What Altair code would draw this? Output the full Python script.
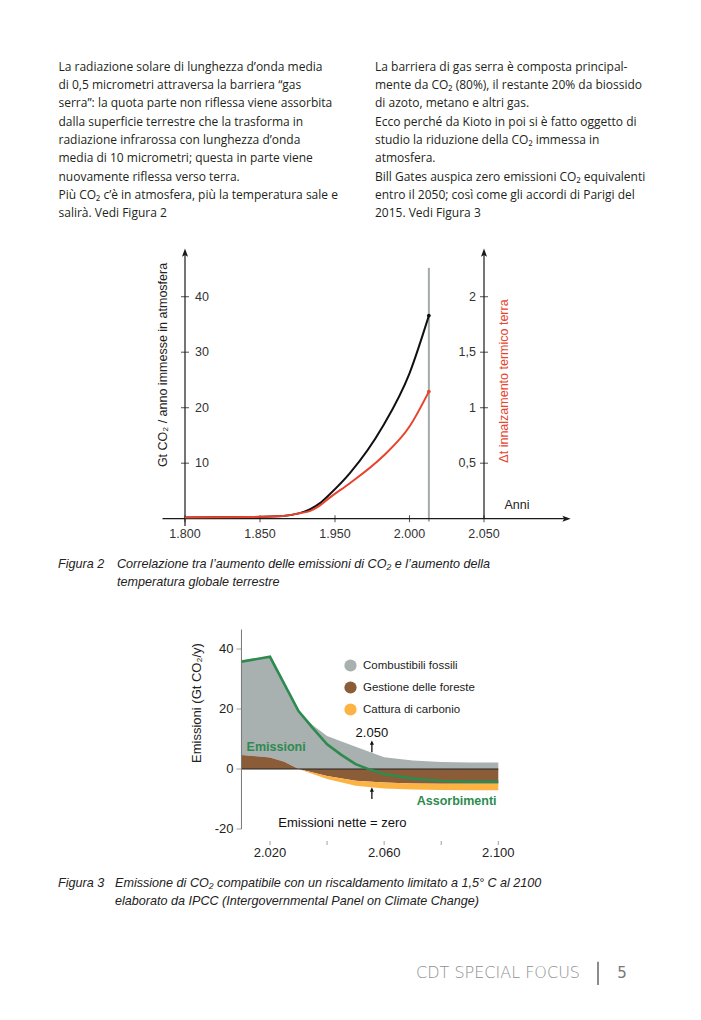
import altair as alt
import pandas as pd

W, H = 685, 1004          # drawing area (page minus 8px margin)
FB = "Open Sans"          # body font
FF = "Liberation Sans"    # figure font

# ---------------- page text ----------------
left_lines = [
    "La radiazione solare di lunghezza d’onda media",
    "di 0,5 micrometri attraversa la barriera “gas",
    "serra”: la quota parte non riflessa viene assorbita",
    "dalla superficie terrestre che la trasforma in",
    "radiazione infrarossa con lunghezza d’onda",
    "media di 10 micrometri; questa  in parte viene",
    "nuovamente riflessa verso terra.",
    "Più CO₂ c’è in atmosfera, più la temperatura sale e",
    "salirà.  Vedi Figura 2",
]
right_lines = [
    "La barriera di gas serra è composta principal-",
    "mente da CO₂ (80%), il restante 20% da biossido",
    "di azoto, metano e altri gas.",
    "Ecco perché da Kioto in poi si è fatto oggetto di",
    "studio la riduzione della CO₂ immessa in",
    "atmosfera.",
    "Bill Gates auspica zero emissioni CO₂ equivalenti",
    "entro il 2050; così come gli accordi di Parigi del",
    "2015.  Vedi Figura 3",
]
cap2_lines = ["Correlazione tra l’aumento delle emissioni di CO₂ e l’aumento della",
              "temperatura globale terrestre"]
cap3_lines = ["Emissione di CO₂ compatibile con un riscaldamento limitato a 1,5° C al 2100",
              "elaborato da IPCC (Intergovernmental Panel on Climate Change)"]

# ---------------- Figura 2 data ----------------
fig2_years = [1800, 1843, 1881, 1903, 1917, 1930, 1943, 1960, 1982, 2000, 2013]
co2_gt     = [0.2, 0.3, 0.5, 1.0, 1.7, 2.8, 4.4, 8.2, 16.6, 26.2, 36.6]
dt_c       = [0.01, 0.015, 0.025, 0.05, 0.07, 0.12, 0.19, 0.32, 0.56, 0.83, 1.145]
fig2_xticks  = [1800, 1850, 1950, 2000, 2050]
fig2_xlabels = ["1.800", "1.850", "1.950", "2.000", "2.050"]
fig2_yticks  = [10, 20, 30, 40]
fig2_ylabels = ["10", "20", "30", "40"]
fig2_tticks  = [0.5, 1, 1.5, 2]
fig2_tlabels = ["0,5", "1", "1,5", "2"]
today_year = 2013

# ---------------- Figura 3 data ----------------
fig3_years = [2010, 2020, 2025, 2030, 2035, 2040, 2050, 2060, 2070, 2080, 2090, 2100]
fossil     = [36.0, 37.4, 28.6, 19.5, 14.6, 11.0, 7.4, 3.9, 2.8, 2.3, 2.2, 2.2]
forest     = [4.7, 3.8, 2.4, 0.0, -1.2, -2.3, -3.9, -4.5, -4.8, -4.9, -4.9, -4.9]
capture    = [0, 0, 0, 0, 0.5, 1.0, 1.7, 2.0, 2.0, 2.1, 2.2, 2.2]
net_years  = [2010, 2020, 2030, 2035, 2040, 2045, 2050, 2055, 2060, 2070, 2080, 2090, 2100]
net        = [35.8, 37.4, 19.3, 13.6, 8.2, 4.7, 1.6, -0.2, -1.7, -3.2, -4.0, -4.2, -4.2]
cats   = ["Combustibili fossili", "Gestione delle foreste", "Cattura di carbonio"]
colors = ["#a9b0b0", "#8b5c38", "#fcb343"]
fig3_xticks  = [2020, 2040, 2060, 2080, 2100]
fig3_xlabels = ["2.020", "", "2.060", "", "2.100"]
fig3_yticks  = [40, 20, 0, -20]
fig3_ylabels = ["40", "20", "0", "-20"]
netzero_year = 2055.7

# ---------------- scales (pixel ranges place each figure on the page) ----------------
x2s = alt.Scale(domain=fig2_xticks, range=[177, 252, 327, 401.5, 476], nice=False, zero=False)
y2s = alt.Scale(domain=[0, 40], range=[510.7, 288.7], nice=False, zero=False)
t2s = alt.Scale(domain=[0, 2], range=[510.7, 288.7], nice=False, zero=False)
x3s = alt.Scale(domain=[2020, 2100], range=[262, 490.3], nice=False, zero=False)
y3s = alt.Scale(domain=[0, 40], range=[761, 641], nice=False, zero=False)


def X(f, s):
    return alt.X(f"{f}:Q", scale=s, axis=None)


def Y(f, s):
    return alt.Y(f"{f}:Q", scale=s, axis=None)


one = pd.DataFrame({"k": [0]})
layers = []

# ---------------- body text ----------------
row_scale = alt.Scale(domain=[0, 8], range=[58.7, 205.3], nice=False, zero=False)
for xpos, lines in [(50.5, left_lines), (367, right_lines)]:
    d = pd.DataFrame({"text": lines, "row": list(range(len(lines)))})
    layers.append(alt.Chart(d).mark_text(align="left", baseline="middle", font=FB, fontSize=12,
                                         color="#231f20").encode(
        x=alt.value(xpos), y=Y("row", row_scale), text="text:N"))

# ---------------- Figura 2 ----------------
axis_col = "#1a1a1a"
layers.append(alt.Chart(pd.DataFrame({"x": [today_year], "a": [-0.5], "b": [45.2]})).mark_rule(
    color="#a3aaaa", strokeWidth=2).encode(x=X("x", x2s), y=Y("a", y2s), y2="b:Q"))
# axis lines
layers.append(alt.Chart(pd.DataFrame({"x": [1800, 2050], "a": [-1.3, 0], "b": [47.8, 47.8]})).mark_rule(
    color=axis_col, strokeWidth=1.2).encode(x=X("x", x2s), y=Y("a", y2s), y2="b:Q"))
layers.append(alt.Chart(pd.DataFrame({"a": [1785], "b": [2104.8], "y": [0]})).mark_rule(
    color=axis_col, strokeWidth=1.2).encode(x=X("a", x2s), x2="b:Q", y=Y("y", y2s)))
# arrowheads
layers.append(alt.Chart(pd.DataFrame({"x": [1800, 2050], "y": [47.8, 47.8]})).mark_point(
    shape="M0,-1L0.6,0.65L0,0.3L-0.6,0.65Z", filled=True, size=100, color=axis_col, opacity=1).encode(
    x=X("x", x2s), y=Y("y", y2s)))
layers.append(alt.Chart(pd.DataFrame({"x": [2104.8], "y": [0]})).mark_point(
    shape="M1,0L-0.65,0.6L-0.3,0L-0.65,-0.6Z", filled=True, size=100, color=axis_col, opacity=1).encode(
    x=X("x", x2s), y=Y("y", y2s)))
# ticks
layers.append(alt.Chart(pd.DataFrame({"x": fig2_xticks, "y": [0] * 5})).mark_tick(
    orient="vertical", size=7, thickness=1.1, color=axis_col).encode(x=X("x", x2s), y=Y("y", y2s)))
layers.append(alt.Chart(pd.DataFrame({"x": [1800] * 4, "y": fig2_yticks})).mark_tick(
    orient="horizontal", size=8, thickness=1.1, color=axis_col).encode(x=X("x", x2s), y=Y("y", y2s)))
layers.append(alt.Chart(pd.DataFrame({"x": [2050] * 4, "y": fig2_tticks})).mark_tick(
    orient="horizontal", size=8, thickness=1.1, color=axis_col).encode(x=X("x", x2s), y=Y("y", t2s)))
# tick labels
layers.append(alt.Chart(pd.DataFrame({"x": fig2_xticks, "y": [0] * 5, "t": fig2_xlabels})).mark_text(
    font=FF, fontSize=12.5, color="#333", baseline="middle", dy=15).encode(
    x=X("x", x2s), y=Y("y", y2s), text="t:N"))
layers.append(alt.Chart(pd.DataFrame({"x": [1800] * 4, "y": fig2_yticks, "t": fig2_ylabels})).mark_text(
    font=FF, fontSize=12.5, color="#333", baseline="middle", align="left", dx=10).encode(
    x=X("x", x2s), y=Y("y", y2s), text="t:N"))
layers.append(alt.Chart(pd.DataFrame({"x": [2050] * 4, "y": fig2_tticks, "t": fig2_tlabels})).mark_text(
    font=FF, fontSize=12.5, color="#333", baseline="middle", align="right", dx=-8).encode(
    x=X("x", x2s), y=Y("y", t2s), text="t:N"))
# curves
d2 = pd.DataFrame({"year": fig2_years, "co2": co2_gt, "dt": dt_c})
layers.append(alt.Chart(d2).mark_line(color="#111111", strokeWidth=2, interpolate="monotone").encode(
    x=X("year", x2s), y=Y("co2", y2s)))
layers.append(alt.Chart(d2).mark_line(color="#e8432d", strokeWidth=2, interpolate="monotone").encode(
    x=X("year", x2s), y=Y("dt", t2s)))
layers.append(alt.Chart(d2.tail(1)).mark_circle(color="#111111", size=14, opacity=1).encode(
    x=X("year", x2s), y=Y("co2", y2s)))
layers.append(alt.Chart(d2.tail(1)).mark_circle(color="#e8432d", size=14, opacity=1).encode(
    x=X("year", x2s), y=Y("dt", t2s)))
# titles
layers.append(alt.Chart(one).mark_text(font=FF, fontSize=12.5, color="#222", angle=270,
                                       baseline="middle").encode(
    x=alt.value(155), y=alt.value(357), text=alt.value("Gt CO₂ / anno immesse in atmosfera")))
layers.append(alt.Chart(one).mark_text(font=FF, fontSize=12.5, color="#e8432d", angle=270,
                                       baseline="middle").encode(
    x=alt.value(496), y=alt.value(373), text=alt.value("Δt innalzamento termico terra")))
layers.append(alt.Chart(one).mark_text(font=FF, fontSize=12.5, color="#222", baseline="middle").encode(
    x=alt.value(509), y=alt.value(497), text=alt.value("Anni")))

# captions
for (yy, lines, label, xoff) in [(556, cap2_lines, "Figura 2", 109), (875.3, cap3_lines, "Figura 3", 107)]:
    layers.append(alt.Chart(one).mark_text(font=FF, fontSize=12.6, fontStyle="italic", color="#222",
                                           align="left", baseline="middle").encode(
        x=alt.value(50), y=alt.value(yy), text=alt.value(label)))
    for i, ln in enumerate(lines):
        layers.append(alt.Chart(one).mark_text(font=FF, fontSize=12.6, fontStyle="italic", color="#222",
                                               align="left", baseline="middle").encode(
            x=alt.value(xoff), y=alt.value(yy + 17.5 * i), text=alt.value(ln)))

# ---------------- Figura 3 ----------------
rows = []
for yr, f, fo, c in zip(fig3_years, fossil, forest, capture):
    rows.append({"year": yr, "cat": cats[0], "lo": max(fo, 0), "hi": f})
    rows.append({"year": yr, "cat": cats[1], "lo": 0, "hi": fo})
    rows.append({"year": yr, "cat": cats[2], "lo": min(fo, 0) - c, "hi": min(fo, 0)})
areas = pd.DataFrame(rows)
layers.append(alt.Chart(areas).mark_area(opacity=1).encode(
    x=X("year", x3s),
    y=alt.Y("hi:Q", scale=y3s, axis=None, stack=None),
    y2="lo:Q",
    color=alt.Color("cat:N", scale=alt.Scale(domain=cats, range=colors),
                    legend=alt.Legend(orient="none", legendX=336, legendY=651, title=None,
                                      symbolType="circle", symbolSize=150, symbolStrokeWidth=0,
                                      symbolOpacity=1, labelFont=FF, labelFontSize=11.5,
                                      labelColor="#222", labelOffset=6, rowPadding=9, padding=0))))
layers.append(alt.Chart(pd.DataFrame({"a": [2010], "b": [2100], "y": [0]})).mark_rule(
    color="#222", strokeWidth=1.2).encode(x=X("a", x3s), x2="b:Q", y=Y("y", y3s)))
layers.append(alt.Chart(pd.DataFrame({"year": net_years, "net": net})).mark_line(
    color="#2e8b4f", strokeWidth=2.6).encode(x=X("year", x3s), y=Y("net", y3s)))
# axis
layers.append(alt.Chart(pd.DataFrame({"x": [2010], "a": [-20], "b": [46.5]})).mark_rule(
    color="#777", strokeWidth=1).encode(x=X("x", x3s), y=Y("a", y3s), y2="b:Q"))
layers.append(alt.Chart(pd.DataFrame({"x": [2010] * 4, "y": fig3_yticks})).mark_tick(
    orient="horizontal", size=5, thickness=1, color="#777", xOffset=-2.5).encode(
    x=X("x", x3s), y=Y("y", y3s)))
layers.append(alt.Chart(pd.DataFrame({"x": [2010] * 4, "y": fig3_yticks, "t": fig3_ylabels})).mark_text(
    font=FF, fontSize=13, color="#222", align="right", baseline="middle", dx=-8).encode(
    x=X("x", x3s), y=Y("y", y3s), text="t:N"))
layers.append(alt.Chart(pd.DataFrame({"x": fig3_xticks, "y": [-20] * 5})).mark_tick(
    orient="vertical", size=4, thickness=1, color="#777", yOffset=14).encode(
    x=X("x", x3s), y=Y("y", y3s)))
layers.append(alt.Chart(pd.DataFrame({"x": fig3_xticks, "y": [-20] * 5, "t": fig3_xlabels})).mark_text(
    font=FF, fontSize=13, color="#222", baseline="middle", dy=24).encode(
    x=X("x", x3s), y=Y("y", y3s), text="t:N"))
layers.append(alt.Chart(one).mark_text(font=FF, fontSize=13, color="#222", angle=270,
                                       baseline="middle").encode(
    x=alt.value(188.7), y=alt.value(695), text=alt.value("Emissioni (Gt CO₂/y)")))
# annotations: arrows at the net-zero year
arr = pd.DataFrame({"x": [netzero_year] * 2, "a": [5.6, -10.0], "b": [8.6, -7.0]})
layers.append(alt.Chart(arr).mark_rule(color="#111", strokeWidth=1.3).encode(
    x=X("x", x3s), y=Y("a", y3s), y2="b:Q"))
layers.append(alt.Chart(arr).mark_point(shape="M0,-1L0.75,0.6L-0.75,0.6Z", filled=True, size=30,
                                        color="#111", opacity=1).encode(
    x=X("x", x3s), y=Y("b", y3s)))
ann = pd.DataFrame({
    "x": [netzero_year, 2022.9],
    "y": [11.9, -17.9],
    "t": ["2.050", "Emissioni nette = zero"],
    "al": ["center", "left"],
})
layers.append(alt.Chart(ann[ann.al == "center"]).mark_text(
    font=FF, fontSize=13, color="#111", baseline="middle", align="center").encode(
    x=X("x", x3s), y=Y("y", y3s), text="t:N"))
layers.append(alt.Chart(ann[ann.al == "left"]).mark_text(
    font=FF, fontSize=13, color="#111", baseline="middle", align="left").encode(
    x=X("x", x3s), y=Y("y", y3s), text="t:N"))
layers.append(alt.Chart(pd.DataFrame({"x": [2011.8], "y": [7.2], "t": ["Emissioni"]})).mark_text(
    font=FF, fontSize=12.5, fontWeight="bold", color="#2e8b4f", baseline="middle", align="left").encode(
    x=X("x", x3s), y=Y("y", y3s), text="t:N"))
layers.append(alt.Chart(pd.DataFrame({"x": [2099.4], "y": [-10.6], "t": ["Assorbimenti"]})).mark_text(
    font=FF, fontSize=12.5, fontWeight="bold", color="#2e8b4f", baseline="middle", align="right").encode(
    x=X("x", x3s), y=Y("y", y3s), text="t:N"))

# ---------------- footer ----------------
layers.append(alt.Chart(one).mark_text(font="DejaVu Sans", fontSize=16, fontWeight=300, color="#8f8f8f",
                                       align="right", baseline="middle").encode(
    x=alt.value(572), y=alt.value(964.5), text=alt.value("CDT SPECIAL FOCUS")))
layers.append(alt.Chart(one).mark_rule(color="#666", strokeWidth=1.5).encode(
    x=alt.value(590), y=alt.value(953.7), y2=alt.value(977)))
layers.append(alt.Chart(one).mark_text(font="DejaVu Sans", fontSize=15, color="#777",
                                       align="center", baseline="middle").encode(
    x=alt.value(614), y=alt.value(965.3), text=alt.value("5")))

chart = alt.layer(*layers).resolve_scale(
    x="independent", y="independent", color="independent"
).properties(
    width=W, height=H, padding=0, autosize=alt.AutoSizeParams(type="none"), background="white"
).configure_view(stroke=None)

chart.save("out.html", embed_options={"renderer": "svg", "actions": False})
